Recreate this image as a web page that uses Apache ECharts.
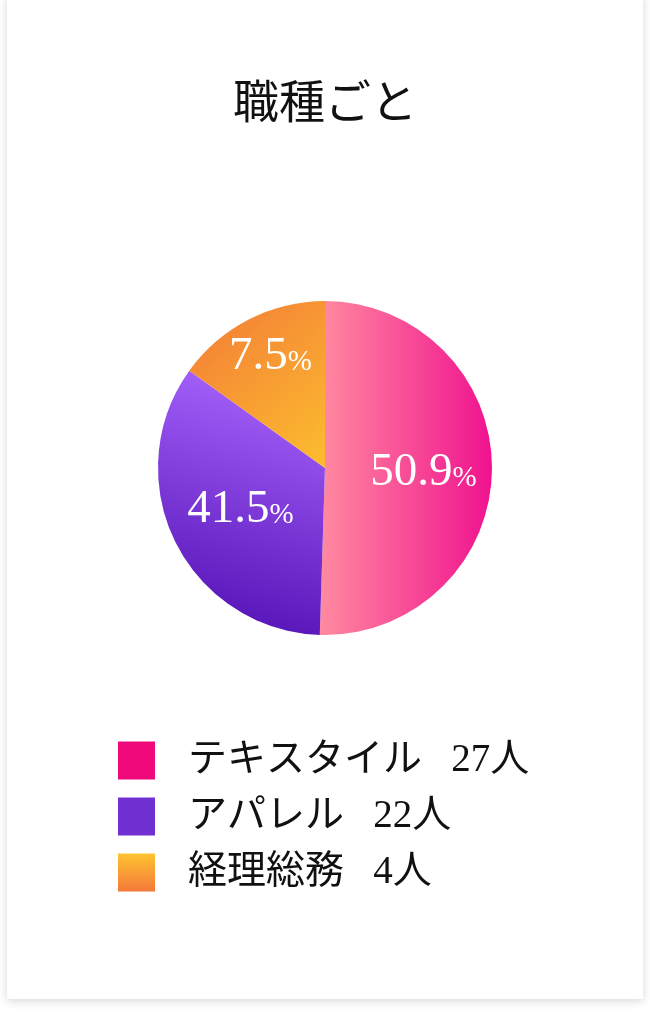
<!DOCTYPE html>
<html>
<head>
<meta charset="utf-8">
<script src="https://cdn.jsdelivr.net/npm/echarts@6/dist/echarts.min.js"></script>
<style>
  html, body { margin: 0; padding: 0; background: #fff; width: 650px; height: 1012px; overflow: hidden; }
  #card { position: absolute; left: 7px; top: -4px; width: 636px; height: 1003px; background: #fff;
          box-shadow: 0 2px 9px rgba(0, 0, 0, 0.16); }
  #main { position: absolute; left: 0; top: 0; width: 650px; height: 1012px; }
</style>
</head>
<body>
<div id="card"></div>
<div id="main"></div>
<script>
// 職種ごとの人数
const categories = ['テキスタイル', 'アパレル', '経理総務'];
const counts = [27, 22, 4];
const percentLabels = ['50.9', '41.5', '7.5'];
// 円グラフに描かれているスライスの大きさ（%、図から読み取り）
const sliceShares = [50.5, 34.4, 15.1];

const serif = "'Liberation Serif', 'Noto Sans CJK JP', serif";

// スライスの色（グラデーション）
const sliceColors = [
  new echarts.graphic.LinearGradient(0, 0, 1, 0, [
    { offset: 0, color: '#ff8aa0' },
    { offset: 1, color: '#f0128f' }
  ]),
  new echarts.graphic.LinearGradient(0.75, 0, 0.3, 1, [
    { offset: 0, color: '#aa66ff' },
    { offset: 1, color: '#5210b4' }
  ]),
  new echarts.graphic.LinearGradient(0, 0, 1, 1, [
    { offset: 0, color: '#f37a38' },
    { offset: 1, color: '#fcbd2e' }
  ])
];
// 凡例アイコンの色
const legendColors = [
  '#f0097a',
  '#7030d2',
  new echarts.graphic.LinearGradient(0, 0, 0, 1, [
    { offset: 0, color: '#fdc430' },
    { offset: 1, color: '#f5783a' }
  ])
];
// ラベルの微調整
const labelOffsets = [[12, 3], [-7, 3], [-15, -35]];

const chart = echarts.init(document.getElementById('main'), null, { renderer: 'canvas' });

const option = {
  backgroundColor: 'transparent',
  animation: false,
  title: {
    text: '職種ごと',
    left: 'center',
    top: 78,
    textStyle: {
      fontFamily: serif,
      fontSize: 46,
      fontWeight: 'normal',
      color: '#111'
    }
  },
  legend: {
    orient: 'vertical',
    left: 118,
    top: 741,
    padding: 0,
    itemWidth: 37,
    itemHeight: 38,
    itemGap: 17,
    icon: 'rect',
    selectedMode: false,
    data: categories.map((c, i) => ({ name: c, itemStyle: { color: legendColors[i] } })),
    formatter: function (name) {
      const i = categories.indexOf(name);
      return name + '   ' + counts[i] + '人';
    },
    textStyle: {
      fontFamily: serif,
      fontSize: 39,
      color: '#111',
      padding: [0, 0, 0, 28]
    }
  },
  series: [{
    type: 'pie',
    center: [325, 468],
    radius: [0, 167],
    startAngle: 90,
    clockwise: true,
    silent: true,
    itemStyle: { borderWidth: 0 },
    label: {
      show: true,
      position: 'inside',
      color: '#fff',
      formatter: function (p) {
        return '{v|' + percentLabels[p.dataIndex] + '}{p|%}';
      },
      rich: {
        v: { fontFamily: serif, fontSize: 47, lineHeight: 48, color: '#fff', verticalAlign: 'bottom' },
        p: { fontFamily: serif, fontSize: 29, lineHeight: 30, color: '#fff', verticalAlign: 'bottom', padding: [0, 0, 3, 0] }
      }
    },
    labelLine: { show: false },
    data: categories.map((c, i) => ({
      name: c,
      value: sliceShares[i],
      itemStyle: { color: sliceColors[i] },
      label: { offset: labelOffsets[i] }
    }))
  }]
};

chart.setOption(option);
</script>
</body>
</html>
